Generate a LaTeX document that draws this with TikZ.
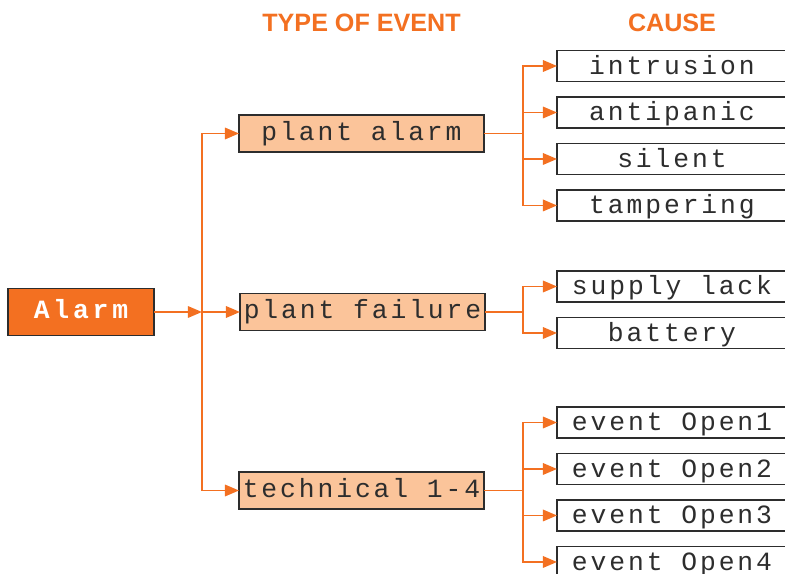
\documentclass[tikz,border=0pt]{standalone}
\usepackage{fontspec}
\newfontfamily\boxfont[LetterSpace=11]{Liberation Mono}
\newfontfamily\alarmfont[LetterSpace=14.5]{Liberation Mono}
\newfontfamily\headfont{Liberation Sans}
\usetikzlibrary{arrows.meta,positioning}
\definecolor{alarmorange}{RGB}{243,112,33}
\definecolor{typepeach}{RGB}{251,196,154}
\definecolor{boxgray}{RGB}{45,45,45}
\tikzset{
  bx/.style={draw=boxgray,line width=0.8pt,inner sep=0pt,outer sep=0pt,
             text height=9.8pt,text depth=2pt,text=boxgray,
             font=\boxfont\fontsize{15}{17}\selectfont},
  alarmbox/.style={bx,fill=alarmorange,text=white,
             font=\alarmfont\bfseries\fontsize{15}{17}\selectfont,
             minimum width=2.92cm,minimum height=0.94cm},
  typebox/.style={bx,fill=typepeach,minimum width=4.9cm,minimum height=0.74cm},
  causebox/.style={bx,fill=white,text height=11.2pt,
             minimum width=4.6cm,minimum height=0.62cm},
  lnk/.style={alarmorange,line width=1.1pt},
  arr/.style={lnk,-{Triangle[length=8pt,width=6.5pt]}},
  head/.style={text=alarmorange,font=\headfont\bfseries\fontsize{14.3}{16}\selectfont},
}

\begin{document}
\begin{tikzpicture}[x=0.02cm,y=-0.02cm]
    \useasboundingbox (0,0) rectangle (785,574);
    % column titles
    \node[head] (thead) at (361.5,23) {TYPE OF EVENT};
    \node[head] (chead) at (672,23) {CAUSE};
    % source and event types
    \node[alarmbox] (alarm) at (81,312) {Alarm};
    \node[typebox] (pa) at (361.5,133.5) {plant alarm};
    \node[typebox] (pf) at (362.5,312) {plant failure};
    \node[typebox] (tech) at (361.5,490.5) {technical 1-4};
    % causes
    \node[causebox] (intr) at (672,66) {intrusion};
    \node[causebox,below=0.31cm of intr] (apan) {antipanic};
    \node[causebox,below=0.31cm of apan] (sil) {silent};
    \node[causebox,below=0.31cm of sil] (tamp) {tampering};
    \node[causebox] (supl) at (672,286.5) {supply lack};
    \node[causebox,below=0.31cm of supl] (batt) {battery};
    \node[causebox] (open1) at (672,422.5) {event Open1};
    \node[causebox,below=0.31cm of open1] (open2) {event Open2};
    \node[causebox,below=0.31cm of open2] (open3) {event Open3};
    \node[causebox,below=0.31cm of open3] (open4) {event Open4};
    % branch points
    \coordinate (sp) at (202,312);
    \coordinate (ja) at (523,133.5);
    \coordinate (jf) at (523,312);
    \coordinate (jt) at (523,490.5);
    % alarm -> types
    \draw[arr] (alarm) -- (sp);
    \draw[arr] (sp) -- (pf);
    \draw[arr] (sp) |- (pa);
    \draw[arr] (sp) |- (tech);
    % types -> causes
    \draw[lnk] (pa) -- (ja);
    \draw[arr] (ja) |- (intr);
    \draw[arr] (ja) |- (apan);
    \draw[arr] (ja) |- (sil);
    \draw[arr] (ja) |- (tamp);
    \draw[lnk] (pf) -- (jf);
    \draw[arr] (jf) |- (supl);
    \draw[arr] (jf) |- (batt);
    \draw[lnk] (tech) -- (jt);
    \draw[arr] (jt) |- (open1);
    \draw[arr] (jt) |- (open2);
    \draw[arr] (jt) |- (open3);
    \draw[arr] (jt) |- (open4);
\end{tikzpicture}
\end{document}
